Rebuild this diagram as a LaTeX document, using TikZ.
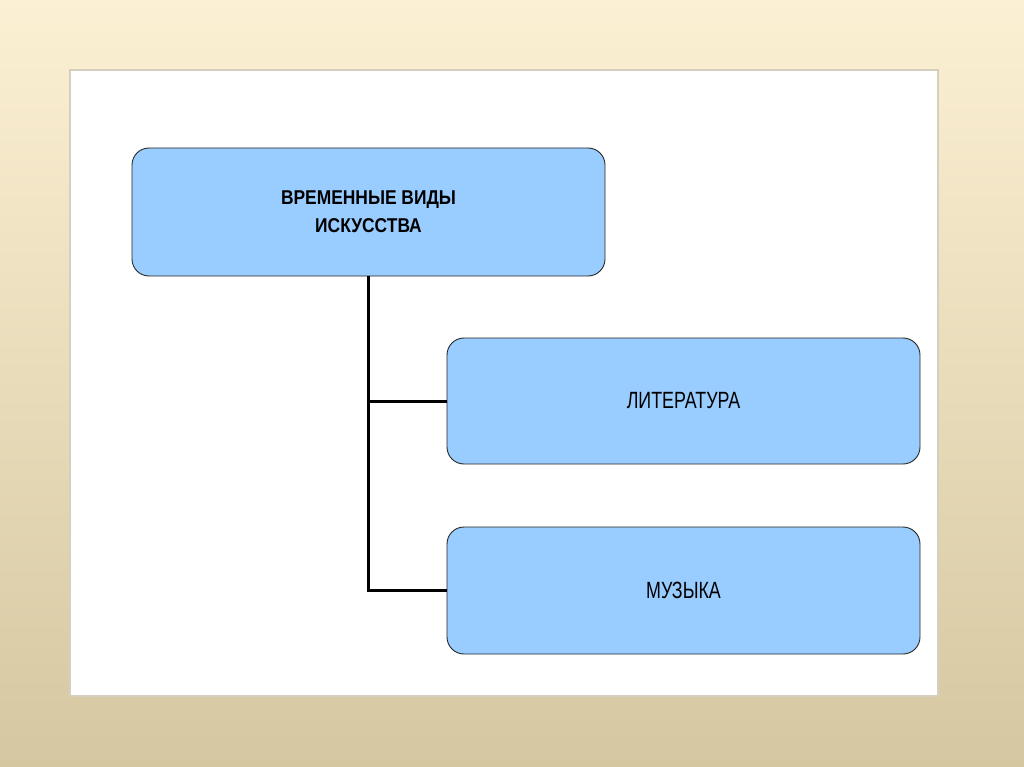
\documentclass[tikz,border=0pt]{standalone}
\usepackage{fontspec}
\setmainfont{Liberation Sans}
\newfontfamily\boxbold[FakeStretch=0.87]{Liberation Sans Bold}
\newfontfamily\boxreg[FakeStretch=0.76]{Liberation Sans}
\definecolor{boxblue}{RGB}{153,204,255}
\definecolor{bgtop}{RGB}{252,240,212}
\definecolor{bgbot}{RGB}{213,199,160}
\definecolor{frameedge}{RGB}{214,206,190}
\tikzset{
  artbox/.style={draw=black!85, line width=0.9pt, fill=boxblue, rounded corners=17pt,
    minimum width=473pt, align=center, inner sep=0pt},
  link/.style={draw=black, line width=3pt}
}
\begin{document}
\begin{tikzpicture}[x=1pt,y=-1pt]
\shade[top color=bgtop, bottom color=bgbot, shading angle=0] (0,0) rectangle (1024,767);
\useasboundingbox (0,0) rectangle (1024,767);
\fill[white, draw=frameedge, line width=1.5pt] (70,70) rectangle (938,696);
\node[artbox, minimum height=128pt, font=\boxbold\fontsize{20}{28}\selectfont] (top) at (368.5,212)
  {ВРЕМЕННЫЕ ВИДЫ\\ИСКУССТВА};
\node[artbox, minimum height=126pt, font=\boxreg\fontsize{23.5}{28}\selectfont] (lit) at (683.5,401) {ЛИТЕРАТУРА};
\node[artbox, minimum height=127pt, font=\boxreg\fontsize{23.5}{28}\selectfont] (mus) at (683.5,590.5) {МУЗЫКА};
\draw[link] (top.south) -- (top.south |- mus.west) -- (mus.west);
\draw[link] (top.south |- lit.west) -- (lit.west);
\end{tikzpicture}
\end{document}
